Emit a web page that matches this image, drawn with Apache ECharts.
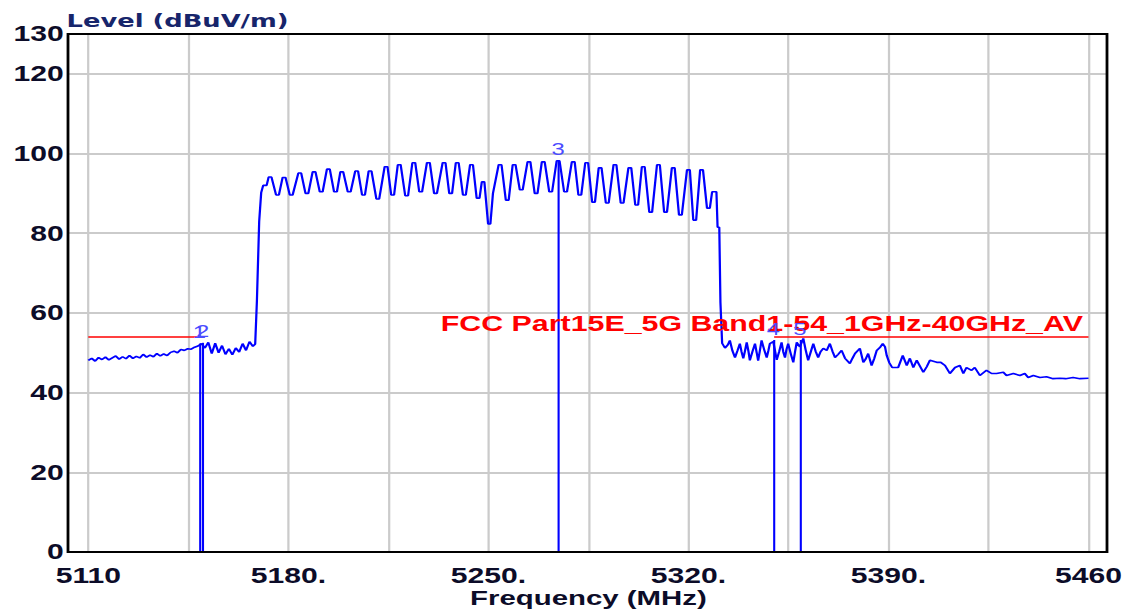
<!DOCTYPE html>
<html><head><meta charset="utf-8">
<script src="https://cdn.jsdelivr.net/npm/echarts@6/dist/echarts.min.js"></script>
<style>
html,body{margin:0;padding:0;background:#fff;overflow:hidden;}
#wrap{width:1134px;height:611px;overflow:hidden;}
#c{width:810px;height:611px;transform:scaleX(1.4);transform-origin:0 0;}
</style></head><body><div id="wrap"><div id="c"></div></div>
<script>
// ---- data ----
const traceFreq = [
  5110.0,5111.2,5112.4,5113.6,5114.8,5116.0,5117.2,5118.4,5119.6,5120.8,
  5122.0,5123.2,5124.4,5125.6,5126.8,5128.0,5129.2,5130.4,5131.6,5132.8,
  5134.0,5135.2,5136.4,5137.6,5138.8,5140.0,5141.2,5142.4,5143.6,5144.8,
  5146.0,5147.2,5148.4,5149.6,5150.8,5152.0,5153.2,5154.4,5155.6,5156.8,
  5158.0,5159.2,5160.4,5161.6,5162.8,5164.0,5165.2,5166.4,5167.6,5168.4,
  5169.0,5169.8,5170.5,5171.2,5172.4,
  5173.1,5174.1,5175.7,5176.7,
  5178.0,5179.0,5180.5,5181.5,
  5183.5,5184.5,5186.0,5187.0,
  5188.5,5189.5,5191.0,5192.0,
  5193.5,5194.5,5196.0,5197.0,
  5198.2,5199.2,5200.8,5201.8,
  5203.4,5204.4,5205.8,5206.8,
  5208.1,5209.1,5210.8,5211.8,
  5213.7,5214.7,5216.0,5217.0,
  5218.3,5219.3,5220.9,5221.9,
  5223.4,5224.4,5225.8,5226.8,
  5228.5,5229.5,5231.0,5232.0,
  5234.0,5235.0,5236.3,5237.3,
  5238.6,5239.6,5241.1,5242.1,
  5243.6,5244.6,5245.9,5246.9,
  5247.7,5248.6,5249.9,5250.7,5251.6,
  5253.6,5254.6,5256.1,5257.1,
  5258.5,5259.5,5261.0,5262.0,
  5263.7,5264.7,5266.2,5267.2,
  5268.7,5269.7,5271.3,5272.3,
  5273.9,5274.9,5276.5,5277.5,
  5279.2,5280.2,5281.5,5282.5,
  5283.9,5284.9,5286.3,5287.3,
  5288.6,5289.6,5291.1,5292.1,
  5293.8,5294.8,5296.3,5297.3,
  5299.0,5300.0,5301.4,5302.4,
  5303.7,5304.7,5306.3,5307.3,
  5309.0,5310.0,5311.5,5312.5,
  5314.2,5315.2,5316.7,5317.7,
  5319.5,5320.5,5321.7,5322.7,
  5324.1,5325.1,5326.5,5327.5,
  5328.3,5329.8,5330.2,5330.8,5331.2,5331.8,
  5332.8,5333.8,5334.5,5335.4,5336.3,5337.2,5338.0,5338.6,5339.2,5339.8,
  5340.4,5341.0,5341.5,5342.4,5343.3,5343.9,5344.4,5345.0,5345.6,5346.5,
  5347.4,5348.0,5348.5,5349.7,5350.9,5351.8,5352.6,5353.2,5353.8,5354.3,
  5354.9,5355.8,5356.7,5357.3,5357.9,5359.0,5360.2,5361.0,5361.9,5362.8,
  5363.7,5364.5,5365.4,5366.2,5367.2,5368.4,5369.5,5370.4,5371.3,5372.4,
  5373.6,5374.8,5376.5,5377.4,5378.3,5380.0,5381.2,5382.0,5382.9,5384.1,
  5385.0,5385.9,5387.0,5388.0,5388.8,5389.4,5390.3,5391.3,5393.4,5395.0,
  5396.4,5397.5,5398.7,5399.9,5402.2,5403.4,5404.5,5406.9,5408.3,5409.8,
  5411.5,5413.3,5415.0,5416.2,5417.3,5419.1,5420.2,5422.0,5424.3,5426.1,
  5427.8,5430.2,5431.3,5433.7,5436.0,5437.7,5438.9,5440.7,5443.0,5445.3,
  5447.6,5450.0,5452.0,5454.6,5457.0,5460.0
];
const traceLevel = [
  48.1,48.6,47.9,48.8,48.3,48.9,48.2,48.7,49.2,48.4,
  49.0,48.5,49.3,48.6,49.1,48.7,49.6,48.9,49.4,49.0,
  49.8,49.2,49.7,49.3,50.1,50.4,50.0,50.8,50.6,51.0,
  50.9,51.4,51.7,52.3,51.2,52.6,49.8,52.4,50.0,51.8,
  49.6,51.0,49.5,51.2,50.2,52.3,50.6,52.8,51.6,52.2,
  63.0,83.0,90.2,92.0,92.0,
  94.1,94.1,89.6,89.6,
  94.0,94.0,89.6,89.6,
  95.1,95.1,90.0,90.0,
  95.4,95.4,90.4,90.4,
  96.1,96.1,90.4,90.4,
  95.4,95.4,90.4,90.4,
  95.6,95.6,89.6,89.6,
  95.6,95.6,88.6,88.6,
  96.7,96.7,89.6,89.6,
  97.2,97.2,89.4,89.4,
  97.7,97.7,90.4,90.4,
  97.7,97.7,90.0,90.0,
  97.7,97.7,90.0,90.0,
  97.7,97.7,89.6,89.6,
  97.2,97.2,88.8,88.8,
  92.9,92.9,82.3,82.3,90.0,
  97.2,97.2,88.3,88.3,
  97.2,97.2,90.9,90.9,
  97.9,97.9,90.0,90.0,
  97.9,97.9,90.4,90.4,
  98.2,98.2,90.4,90.4,
  97.9,97.9,89.6,89.6,
  97.7,97.7,87.8,87.8,
  96.4,96.4,87.6,87.6,
  97.2,97.2,87.6,87.6,
  96.4,96.4,87.1,87.1,
  96.7,96.7,85.3,85.3,
  97.2,97.2,85.3,85.3,
  96.4,96.4,84.6,84.6,
  95.9,95.9,83.3,83.3,
  95.9,95.9,86.3,86.3,
  90.4,90.4,81.5,81.5,62.7,52.4,
  51.2,52.0,53.1,50.5,48.8,50.6,52.3,50.2,48.6,50.5,
  52.6,50.4,48.1,50.3,52.3,50.0,48.0,50.5,53.1,50.8,
  48.8,50.6,52.3,52.8,48.2,50.4,52.6,50.2,48.8,50.8,
  52.3,49.8,47.6,50.2,52.6,51.5,53.6,50.8,48.1,50.2,
  52.3,50.4,48.8,50.2,51.1,50.6,52.3,50.4,48.8,49.6,
  50.6,48.6,47.3,48.6,49.8,51.1,47.6,48.4,49.8,46.8,
  48.5,50.6,51.3,52.3,51.5,49.3,47.5,46.3,46.3,49.3,
  46.8,48.6,46.3,48.1,45.1,46.5,48.1,47.6,47.6,46.8,
  44.8,46.3,46.8,44.8,46.3,45.6,46.3,44.3,45.6,44.8,
  44.8,45.1,44.3,44.8,44.3,44.8,43.8,44.3,43.8,44.0,
  43.5,43.6,43.5,43.8,43.5,43.6
];
const markerNames  = ['1', '2', '3', '4', '5'];
const markerFreqs  = [5148.9, 5150.0, 5274.4, 5349.7, 5359.0];
const markerLevels = [52.3, 52.5, 98.2, 53.2, 53.2];

const limitName = 'FCC Part15E_5G Band1-54_1GHz-40GHz_AV';
const limitLevel = 54;
const limitSegments = [[5110, 5150], [5350, 5460]];

const xTickValues = [5110, 5180, 5250, 5320, 5390, 5460];
const xTickLabels = ['5110', '5180.', '5250.', '5320.', '5390.', '5460'];
const yMin = 0, yMax = 130, yStep = 20;
const xMin = 5110, xMax = 5460, xGridStep = 35;
const xTitle = 'Frequency (MHz)';
const yTitle = 'Level (dBuV/m)';

// ---- layout (chart is drawn 1.4x narrower, then stretched horizontally) ----
const SX = 1.4;
const W = 1134 / SX;
const frame = {left: 68 / SX, right: W - 1107 / SX, top: 34, bottom: 59};
const plot  = {left: 88.3 / SX, right: W - 1088.5 / SX, top: 34, bottom: 59};

if (traceFreq.length !== traceLevel.length) console.error('length mismatch', traceFreq.length, traceLevel.length);
const trace = traceFreq.map((f, i) => [f, traceLevel[i]]);

const numFont = 'Liberation Sans, Arial, sans-serif';
const chart = echarts.init(document.getElementById('c'), null, {renderer: 'svg'});
chart.setOption({
  animation: false,
  backgroundColor: '#fff',
  grid: [
    Object.assign({show: true, borderColor: '#000', borderWidth: 2, backgroundColor: 'transparent', z: 10,
      containLabel: false, outerBoundsMode: 'none'}, frame),
    Object.assign({show: false, containLabel: false, outerBoundsMode: 'none'}, plot)
  ],
  xAxis: [
    {gridIndex: 0, type: 'value', min: 0, max: 1, show: false},
    {gridIndex: 1, type: 'value', min: xMin, max: xMax, interval: xGridStep,
     axisLine: {show: false}, axisTick: {show: false},
     splitLine: {show: true, lineStyle: {color: '#cbcbcb', width: 1.6}},
     axisLabel: {margin: 13, fontFamily: numFont, fontWeight: 'bold', fontSize: 21.5, color: '#0c0c28',
       formatter: v => { const i = xTickValues.indexOf(v); return i >= 0 ? xTickLabels[i] : ''; }},
     name: xTitle, nameLocation: 'middle', nameGap: 35, nameMoveOverlap: false,
     nameTextStyle: {fontFamily: numFont, fontWeight: 'bold', fontSize: 21, color: '#0c0c28'}}
  ],
  yAxis: [
    {gridIndex: 0, type: 'value', min: yMin, max: yMax, interval: yStep,
     axisLine: {show: false}, axisTick: {show: false},
     splitLine: {show: true, lineStyle: {color: '#cbcbcb', width: 2}},
     axisLabel: {margin: 3, fontFamily: numFont, fontWeight: 'bold', fontSize: 21.5, color: '#0c0c28'},
     name: yTitle, nameLocation: 'end', nameGap: 5, nameMoveOverlap: false,
     nameTextStyle: {fontFamily: 'DejaVu Sans, Verdana, sans-serif', fontWeight: 'bold', fontSize: 18.4,
       color: '#17256b', align: 'left', verticalAlign: 'bottom', padding: [0, 0, 0, -1]}},
    {gridIndex: 1, type: 'value', min: yMin, max: yMax, show: false}
  ],
  series: [
    {
      name: 'limit', type: 'line', xAxisIndex: 1, yAxisIndex: 1, data: [], silent: true,
      markLine: {
        silent: true, symbol: ['none', 'none'], animation: false,
        lineStyle: {color: '#ff0000', width: 1.6, type: 'solid'},
        label: {show: false},
        data: limitSegments.map((s, i) => [
          {coord: [s[0], limitLevel],
           label: i === limitSegments.length - 1 ? {show: true, position: 'insideEndTop', formatter: limitName,
             distance: [4, 2], fontFamily: numFont, fontWeight: 'bold', fontSize: 21.7, color: '#ff0000'} : {show: false}},
          {coord: [s[1], limitLevel]}
        ])
      }
    },
    {
      name: 'trace', type: 'line', xAxisIndex: 1, yAxisIndex: 1, data: trace,
      showSymbol: false, symbol: 'none', silent: true,
      lineStyle: {color: '#0000ff', width: 1.6}
    },
    {
      name: 'markers', type: 'line', xAxisIndex: 1, yAxisIndex: 1, data: [], silent: true,
      markLine: {
        silent: true, symbol: ['none', 'none'], animation: false,
        lineStyle: {color: '#0000ff', width: 1.5, type: 'solid'},
        label: {show: true, position: 'end', formatter: '{b}', distance: 3,
          fontFamily: numFont, fontSize: 17, color: '#4b4bff'},
        data: markerFreqs.map((f, i) => [
          {coord: [f, yMin], name: markerNames[i]},
          {coord: [f, markerLevels[i]]}
        ])
      }
    }
  ]
});
</script>
</body></html>
